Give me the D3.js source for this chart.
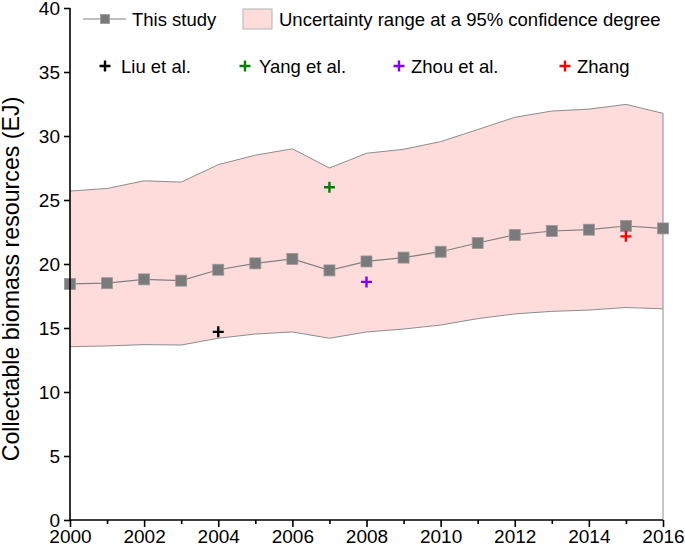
<!DOCTYPE html>
<html>
<head>
<meta charset="utf-8">
<script src="https://cdn.jsdelivr.net/npm/d3@7"></script>
<style>
  body { margin: 0; background: #fff; }
  svg { display: block; font-family: "Liberation Sans", Arial, sans-serif; }
</style>
</head>
<body>
<div id="chart"></div>
<script>
// data
const years = [2000, 2001, 2002, 2003, 2004, 2005, 2006, 2007, 2008,
               2009, 2010, 2011, 2012, 2013, 2014, 2015, 2016];
const thisStudy = [18.44, 18.5, 18.8, 18.7, 19.55, 20.05, 20.4, 19.5, 20.2,
                   20.5, 20.96, 21.64, 22.27, 22.58, 22.68, 22.97, 22.78];
const upper = [25.7, 25.9, 26.5, 26.4, 27.76, 28.5, 29.0, 27.5, 28.65,
               28.96, 29.56, 30.5, 31.46, 31.95, 32.1, 32.47, 31.77];
const lower = [13.54, 13.6, 13.7, 13.67, 14.2, 14.53, 14.69, 14.2, 14.69,
               14.92, 15.23, 15.73, 16.1, 16.3, 16.4, 16.6, 16.5];
const refNames = ["Liu et al.", "Yang et al.", "Zhou et al.", "Zhang"];
const refYears = [2004, 2007, 2008, 2015];
const refValues = [14.7, 26.0, 18.6, 22.16];
const refColors = ["#000000", "#008000", "#8000ff", "#ff0000"];
const yTicks = [0, 5, 10, 15, 20, 25, 30, 35, 40];
const xTicks = [2000, 2002, 2004, 2006, 2008, 2010, 2012, 2014, 2016];

const W = 685, H = 550;
const m = { left: 70, right: 22, top: 8, bottom: 30 };

const svg = d3.select("#chart").append("svg").attr("width", W).attr("height", H);

const x = d3.scaleLinear().domain([2000, 2016]).range([m.left, W - m.right]);
const y = d3.scaleLinear().domain([0, 40]).range([H - m.bottom, m.top]);

const rows = years.map((yr, i) => ({ yr, v: thisStudy[i], hi: upper[i], lo: lower[i] }));

// uncertainty band
const area = d3.area().x(d => x(d.yr)).y0(d => y(d.lo)).y1(d => y(d.hi));
svg.append("path").datum(rows).attr("d", area).attr("fill", "#ffdcdc");
svg.append("path").datum(rows)
    .attr("d", d3.line().x(d => x(d.yr)).y(d => y(d.hi)))
    .attr("fill", "none").attr("stroke", "#8c8c8c").attr("stroke-width", 1);
svg.append("path").datum(rows)
    .attr("d", d3.line().x(d => x(d.yr)).y(d => y(d.lo)))
    .attr("fill", "none").attr("stroke", "#8c8c8c").attr("stroke-width", 1);
// closing edge at the last year
svg.append("line")
    .attr("x1", x(2016)).attr("x2", x(2016))
    .attr("y1", y(upper[upper.length - 1])).attr("y2", y(0))
    .attr("stroke", "#8c8c8c").attr("stroke-width", 1);

// this study line + square markers
svg.append("path").datum(rows)
    .attr("d", d3.line().x(d => x(d.yr)).y(d => y(d.v)))
    .attr("fill", "none").attr("stroke", "#808080").attr("stroke-width", 1.2);
svg.selectAll("rect.pt").data(rows).join("rect")
    .attr("class", "pt")
    .attr("x", d => x(d.yr) - 5.5).attr("y", d => y(d.v) - 5.5)
    .attr("width", 11).attr("height", 11)
    .attr("fill", "#7a7a7a").attr("stroke", "#9a9a9a").attr("stroke-width", 0.8);

// literature crosses
function cross(g, cx, cy, color) {
    g.append("path")
        .attr("d", `M${cx - 5.5},${cy}H${cx + 5.5}M${cx},${cy - 5.5}V${cy + 5.5}`)
        .attr("stroke", color).attr("stroke-width", 2.4).attr("fill", "none");
}
refYears.forEach((yr, i) => cross(svg, x(yr), y(refValues[i]), refColors[i]));

// axes
const xAxisG = svg.append("g").attr("transform", `translate(0,${y(0)})`)
    .call(d3.axisBottom(x).tickValues(xTicks).tickFormat(d3.format("d")).tickSize(7).tickPadding(3));
svg.append("g").attr("transform", `translate(0,${y(0)})`)
    .call(d3.axisBottom(x).tickValues(years.filter(v => v % 2 === 1)).tickFormat("").tickSize(4))
    .select(".domain").remove();
const yAxisG = svg.append("g").attr("transform", `translate(${x(2000)},0)`)
    .call(d3.axisLeft(y).tickValues(yTicks).tickSize(6).tickPadding(4));

svg.selectAll(".domain").attr("stroke", "#000").attr("stroke-width", 1.6);
svg.selectAll(".tick line").attr("stroke", "#000").attr("stroke-width", 1.6);
svg.selectAll(".tick text").attr("font-size", 19).attr("fill", "#000")
    .attr("font-family", "Liberation Sans, Arial, sans-serif");
xAxisG.selectAll(".domain").attr("d", `M${x(2000)},0H${x(2016)}`);
yAxisG.selectAll(".domain").attr("d", `M0,${y(0)}V${y(40)}`);

// y title
svg.append("text")
    .attr("transform", `translate(19,279) rotate(-90)`)
    .attr("text-anchor", "middle").attr("font-size", 23.2).attr("fill", "#000")
    .text("Collectable biomass resources (EJ)");

// legend
const lg = svg.append("g").attr("font-size", 18.5).attr("fill", "#000");
lg.append("line").attr("x1", 83).attr("x2", 126).attr("y1", 19).attr("y2", 19)
    .attr("stroke", "#808080").attr("stroke-width", 1.2);
lg.append("rect").attr("x", 105 - 4.5).attr("y", 19 - 4.5).attr("width", 9).attr("height", 9)
    .attr("fill", "#7a7a7a").attr("stroke", "#9a9a9a").attr("stroke-width", 0.8);
lg.append("text").attr("x", 132).attr("y", 25.5).text("This study");
lg.append("rect").attr("x", 243).attr("y", 9).attr("width", 29).attr("height", 20)
    .attr("fill", "#ffdcdc").attr("stroke", "#b4b4b4").attr("stroke-width", 1);
lg.append("text").attr("x", 279).attr("y", 25.5).text("Uncertainty range at a 95% confidence degree");

const crossX = [105, 245, 399, 565];
const labelX = [121, 259, 411, 577];
refNames.forEach((name, i) => {
    cross(lg, crossX[i], 66, refColors[i]);
    lg.append("text").attr("x", labelX[i]).attr("y", 73).text(name);
});
</script>
</body>
</html>
